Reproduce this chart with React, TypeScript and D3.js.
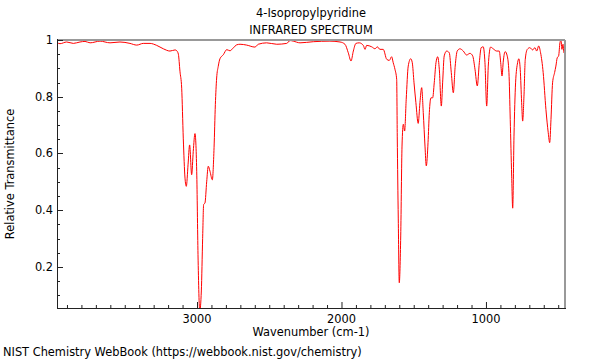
import * as d3 from "d3";
import { useEffect, useRef } from "react";

// spectrum: wavenumber (cm-1) and relative transmittance
const wavenumbers = [
  3967, 3948, 3902, 3856, 3810, 3775, 3740, 3671, 3602, 3533, 3464, 3417, 3372, 3325, 3279, 3233,
  3187, 3152, 3140, 3129, 3118, 3106, 3095, 3083, 3074, 3062, 3051, 3037, 3026, 3014, 3002, 2993,
  2981, 2970, 2961, 2954, 2945, 2933, 2922, 2910, 2894, 2882, 2873, 2864, 2853, 2841, 2818, 2794,
  2772, 2749, 2725, 2702, 2656, 2599, 2576, 2518, 2448, 2379, 2356, 2334, 2287, 2195, 2080, 2010,
  1976, 1953, 1934, 1918, 1900, 1877, 1849, 1837, 1826, 1791, 1768, 1752, 1734, 1711, 1687, 1669,
  1653, 1642, 1630, 1618, 1614, 1607, 1600, 1590, 1581, 1572, 1563, 1552, 1538, 1521, 1510, 1498,
  1485, 1469, 1457, 1445, 1434, 1422, 1413, 1401, 1392, 1381, 1369, 1358, 1346, 1334, 1323, 1309,
  1300, 1289, 1272, 1254, 1240, 1226, 1213, 1199, 1180, 1157, 1134, 1111, 1092, 1076, 1060, 1046,
  1033, 1019, 1007, 995, 984, 968, 950, 926, 908, 898, 889, 880, 867, 853, 841, 832,
  822, 815, 806, 795, 781, 772, 763, 753, 746, 737, 728, 714, 696, 677, 661, 649,
  635, 622, 604, 585, 569, 559, 550, 539, 525, 516, 507, 497, 488, 481, 474, 467,
  460, 453,
];
const transmittance = [
  0.99, 0.987, 0.993, 0.988, 0.993, 0.995, 0.99, 0.996, 0.99, 0.993, 0.988, 0.982, 0.988, 0.988, 0.981, 0.969,
  0.961, 0.965, 0.962, 0.95, 0.89, 0.83, 0.654, 0.513, 0.484, 0.56, 0.63, 0.525, 0.607, 0.67, 0.537, 0.243,
  0.045, 0.115, 0.3, 0.42, 0.425, 0.5, 0.555, 0.537, 0.507, 0.62, 0.772, 0.866, 0.907, 0.934, 0.948, 0.966,
  0.962, 0.972, 0.983, 0.985, 0.982, 0.975, 0.985, 0.99, 0.985, 0.988, 0.998, 0.996, 0.99, 0.994, 0.996, 0.993,
  0.985, 0.955, 0.926, 0.961, 0.988, 0.99, 0.981, 0.967, 0.981, 0.976, 0.969, 0.976, 0.967, 0.967, 0.932, 0.928,
  0.941, 0.92, 0.897, 0.861, 0.661, 0.369, 0.144, 0.309, 0.626, 0.703, 0.679, 0.791, 0.908, 0.934, 0.92, 0.849,
  0.779, 0.706, 0.779, 0.832, 0.744, 0.626, 0.556, 0.638, 0.744, 0.796, 0.796, 0.849, 0.92, 0.941, 0.897, 0.767,
  0.849, 0.944, 0.961, 0.955, 0.885, 0.814, 0.908, 0.961, 0.969, 0.961, 0.947, 0.953, 0.944, 0.897, 0.838, 0.92,
  0.973, 0.976, 0.92, 0.767, 0.908, 0.975, 0.969, 0.961, 0.961, 0.92, 0.873, 0.926, 0.959, 0.944, 0.885, 0.72,
  0.52, 0.407, 0.661, 0.849, 0.92, 0.934, 0.897, 0.779, 0.714, 0.802, 0.932, 0.967, 0.973, 0.965, 0.973, 0.961,
  0.979, 0.955, 0.885, 0.755, 0.673, 0.638, 0.72, 0.849, 0.885, 0.908, 0.937, 0.944, 0.99, 1.0, 0.967, 0.985,
  0.955, 0.973,
];
const xTicks = [3000, 2000, 1000];
const yTicks = [0.2, 0.4, 0.6, 0.8, 1];
const xDomain = [3969, 453];
const yDomain = [0.055, 1];

const W = 600, H = 360;
const L = 57, R = 565, T = 40, B = 308;
const font = "11.4px DejaVu Sans, sans-serif";

export default function App() {
  const ref = useRef<SVGSVGElement>(null);

  useEffect(() => {
    const svg = d3.select(ref.current);
    svg.selectAll("*").remove();

    const x = d3.scaleLinear().domain(xDomain).range([L, R]);
    const y = d3.scaleLinear().domain(yDomain).range([B, T]);

    svg.append("clipPath").attr("id", "plotclip")
      .append("rect").attr("x", L).attr("y", T).attr("width", R - L).attr("height", B - T);

    const data = wavenumbers.map((w, i) => [w, transmittance[i]] as [number, number]);
    const line = d3.line<[number, number]>().x(d => x(d[0])).y(d => y(d[1])).curve(d3.curveMonotoneX);

    svg.append("path")
      .datum(data)
      .attr("d", line)
      .attr("fill", "none")
      .attr("stroke", "#ff0000")
      .attr("stroke-width", 1)
      .attr("clip-path", "url(#plotclip)");

    // frame: top and right grey, left and bottom black
    svg.append("line").attr("x1", L).attr("x2", R).attr("y1", T).attr("y2", T)
      .attr("stroke", "#999").attr("stroke-width", 2);
    svg.append("line").attr("x1", R).attr("x2", R).attr("y1", T).attr("y2", B)
      .attr("stroke", "#999").attr("stroke-width", 2);

    // minor ticks
    const xMinor = d3.range(500, 4000, 100).filter(v => v <= xDomain[0] && v >= xDomain[1]);
    svg.selectAll(".xminor").data(xMinor).enter().append("line")
      .attr("x1", d => x(d) + 0.5).attr("x2", d => x(d) + 0.5)
      .attr("y1", B).attr("y2", d => (d % 1000 === 0 ? B - 6 : B - 3))
      .attr("stroke", "#222").attr("stroke-width", 1);
    const yMinor = d3.range(0.1, 1.001, 0.05);
    svg.selectAll(".yminor").data(yMinor).enter().append("line")
      .attr("x1", L).attr("x2", d => (Math.abs(d * 5 - Math.round(d * 5)) < 1e-6 ? L + 6 : L + 3))
      .attr("y1", d => Math.round(y(d)) + 0.5).attr("y2", d => Math.round(y(d)) + 0.5)
      .attr("stroke", "#222").attr("stroke-width", 1);

    svg.append("line").attr("x1", L + 0.5).attr("x2", L + 0.5).attr("y1", T - 1).attr("y2", B + 0.5)
      .attr("stroke", "#222").attr("stroke-width", 1);
    svg.append("line").attr("x1", L).attr("x2", R + 1).attr("y1", B + 0.5).attr("y2", B + 0.5)
      .attr("stroke", "#222").attr("stroke-width", 1);

    // tick labels
    svg.selectAll(".xlab").data(xTicks).enter().append("text")
      .attr("x", d => x(d)).attr("y", 323)
      .attr("text-anchor", "middle").style("font", font).attr("fill", "#000")
      .text(d => d);
    svg.selectAll(".ylab").data(yTicks).enter().append("text")
      .attr("x", L - 4).attr("y", d => y(d) + 4)
      .attr("text-anchor", "end").style("font", font).attr("fill", "#000")
      .text(d => d3.format("")(d));

    // titles
    svg.append("text").attr("x", (L + R) / 2).attr("y", 17).attr("text-anchor", "middle")
      .style("font", font).text("4-Isopropylpyridine");
    svg.append("text").attr("x", (L + R) / 2).attr("y", 34).attr("text-anchor", "middle")
      .style("font", font).text("INFRARED SPECTRUM");
    svg.append("text").attr("x", (L + R) / 2).attr("y", 336).attr("text-anchor", "middle")
      .style("font", font).text("Wavenumber (cm-1)");
    svg.append("text").attr("transform", `translate(14,${(T + B) / 2}) rotate(-90)`)
      .attr("text-anchor", "middle").style("font", font).text("Relative Transmittance");
    svg.append("text").attr("x", 3).attr("y", 356)
      .style("font", font).text("NIST Chemistry WebBook (https://webbook.nist.gov/chemistry)");
  }, []);

  return (
    <svg ref={ref} width={W} height={H} style={{ position: "absolute", left: 0, top: 0, background: "#fff" }} />
  );
}
